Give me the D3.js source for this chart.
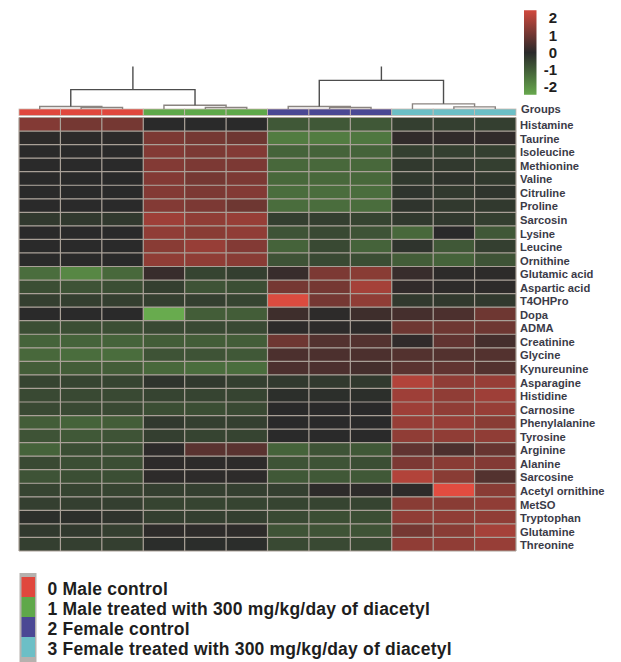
<!DOCTYPE html>
<html>
<head>
<meta charset="utf-8">
<script src="https://cdn.jsdelivr.net/npm/d3@7"></script>
<style>
  html, body { margin: 0; padding: 0; background: #fff; }
  svg { display: block; font-family: "Liberation Sans", Arial, sans-serif; }
</style>
</head>
<body>
<svg id="chart" width="621" height="662"></svg>
<script>
// Metabolites (rows), top to bottom
const metabolites = [
  "Histamine", "Taurine", "Isoleucine", "Methionine", "Valine", "Citruline",
  "Proline", "Sarcosin", "Lysine", "Leucine", "Ornithine", "Glutamic acid",
  "Aspartic acid", "T4OHPro", "Dopa", "ADMA", "Creatinine", "Glycine",
  "Kynureunine", "Asparagine", "Histidine", "Carnosine", "Phenylalanine",
  "Tyrosine", "Arginine", "Alanine", "Sarcosine", "Acetyl ornithine",
  "MetSO", "Tryptophan", "Glutamine", "Threonine"
];

// Sample columns (left to right) and the group each belongs to
const sampleGroups = [0, 0, 0, 1, 1, 1, 2, 2, 2, 3, 3, 3];

const groupNames = [
  "0 Male control",
  "1 Male treated with 300 mg/kg/day of diacetyl",
  "2 Female control",
  "3 Female treated with 300 mg/kg/day of diacetyl"
];
const groupColors = ["#e0473d", "#5fa84a", "#4b4894", "#6cbfc6"];

// Scaled concentrations (z-scores), one row per metabolite, 12 samples each
const zValues = [
  [ 1.3,  1.1,  1.1,  0.0,  0.0,  0.0, -0.9, -0.9, -0.9, -0.4, -0.4, -0.4],
  [ 0.05, 0.05, 0.05, 1.2,  1.1,  1.0, -1.6, -1.6, -1.5,  0.1,  0.1,  0.1],
  [ 0.0,  0.0,  0.0,  1.3,  1.2,  1.3, -1.1, -1.1, -1.1, -0.4, -0.4, -0.4],
  [ 0.0,  0.0,  0.0,  1.3,  1.2,  1.2, -1.2, -1.2, -1.2, -0.3, -0.3, -0.4],
  [ 0.0,  0.0,  0.0,  1.3,  1.1,  1.2, -1.2, -1.2, -1.2, -0.3, -0.2, -0.3],
  [ 0.0,  0.0,  0.0,  1.3,  1.2,  1.3, -1.3, -1.3, -1.3, -0.2, -0.3, -0.2],
  [ 0.0,  0.0,  0.0,  1.3,  1.2,  1.0, -1.3, -1.3, -1.3, -0.2, -0.3, -0.3],
  [-0.3, -0.3, -0.3,  1.7,  1.5,  1.6, -0.4, -0.4, -0.5, -0.3, -0.3, -0.4],
  [ 0.0,  0.0,  0.0,  1.5,  1.4,  1.5, -0.8, -0.6, -0.8, -1.2,  0.0, -0.9],
  [ 0.0,  0.0,  0.0,  1.4,  1.6,  1.3, -1.1, -0.6, -1.1, -0.2, -0.9, -0.4],
  [ 0.0,  0.0,  0.0,  1.5,  1.5,  1.4, -0.8, -0.6, -0.7, -1.0, -1.1, -0.8],
  [-1.3, -1.8, -1.2,  0.2, -0.5, -0.4,  0.2,  1.2,  1.4,  0.2,  0.05, 0.05],
  [-0.7, -0.8, -0.7, -0.4, -0.8, -0.7,  1.1,  1.1,  1.8,  0.1,  0.05, 0.05],
  [-0.4, -0.4, -0.4, -0.4, -0.4, -0.5,  2.6,  1.1,  1.5, -0.3, -0.3, -0.3],
  [ 0.0,  0.0,  0.0, -2.5, -1.0, -1.0,  0.3,  0.05, 0.3,  0.4,  0.5,  1.0],
  [-0.7, -0.7, -0.7, -0.6, -0.6, -0.6,  0.05, 0.05, 0.05, 1.0,  1.0,  1.0],
  [-1.1, -1.1, -1.1, -1.0, -1.0, -1.0,  1.0,  0.6,  0.6,  0.1,  0.8,  0.4],
  [-1.2, -1.3, -1.3, -0.8, -0.8, -0.9,  0.5,  0.5,  0.5,  0.6,  0.6,  0.6],
  [-1.0, -1.0, -1.0, -1.2, -1.3, -1.3,  0.5,  0.5,  0.4,  0.7,  0.8,  0.6],
  [-0.5, -0.5, -0.5, -0.2, -0.3, -0.4, -0.3, -0.3, -0.3,  2.0,  1.5,  1.6],
  [-0.6, -0.6, -0.6, -0.5, -0.5, -0.5, -0.1, -0.1, -0.1,  1.7,  1.5,  1.7],
  [-0.6, -0.6, -0.6, -0.7, -0.7, -0.6,  0.0,  0.0,  0.0,  1.7,  1.5,  1.6],
  [-1.0, -1.1, -1.0, -0.3, -0.4, -0.4,  0.0,  0.0,  0.0,  1.6,  1.6,  1.4],
  [-0.8, -0.9, -0.8, -0.4, -0.5, -0.5,  0.0,  0.0,  0.0,  1.5,  1.5,  1.5],
  [-1.1, -0.7, -0.7,  0.05, 0.7,  0.7, -1.1, -0.8, -0.9,  0.8,  0.5,  0.9],
  [-0.6, -0.7, -0.7,  0.05, 0.05, 0.05, -0.8, -0.8, -0.7,  1.2,  1.4,  1.3],
  [-0.8, -0.7, -0.7,  0.05, 0.05, 0.05, -0.9, -0.9, -0.9,  2.0,  1.4,  0.6],
  [-0.5, -0.5, -0.5, -0.4, -0.4, -0.4, -0.4,  0.05, 0.05, 0.05, 2.8,  1.4],
  [-0.4, -0.4, -0.4, -0.5, -0.5, -0.5, -0.5, -0.5, -0.5,  1.4,  1.4,  1.5],
  [-0.1, -0.1, -0.2, -0.4, -0.4, -0.4, -0.6, -0.7, -0.7,  1.5,  1.5,  1.5],
  [-0.3, -0.3, -0.4,  0.05, 0.05, 0.05, -0.8, -0.8, -0.8,  1.1,  1.4,  1.8],
  [-0.4, -0.4, -0.4, -0.05, -0.05, -0.05, -0.6, -0.6, -0.6, 1.5,  1.5,  1.6]
];

// Column clustering: [left node, right node, height]; leaves are 0..11, merges get ids 12+
const columnLinkage = [
  [1, 2, 0.35],
  [0, 12, 0.58],
  [4, 5, 0.35],
  [3, 14, 0.89],
  [13, 15, 4.56],
  [7, 8, 0.35],
  [6, 17, 0.58],
  [10, 11, 0.51],
  [9, 19, 1.21],
  [18, 20, 6.73]
];
const dendroRoots = [16, 21];

const colorTicks = [2, 1, 0, -1, -2];

// ---------- layout ----------
const svg = d3.select("#chart");
const heat = { left: 19, right: 516, top: 117.5, bottom: 551 };

const cols = d3.range(sampleGroups.length);
const x = d3.scaleBand().domain(cols).range([heat.left, heat.right]);
const y = d3.scaleBand().domain(metabolites).range([heat.top, heat.bottom]);

const color = d3.scaleLinear()
  .domain([-2.7, 0, 2.7])
  .range(["#6db551", "#2a2a2a", "#e24c40"])
  .clamp(true);

// ---------- heatmap cells ----------
const cells = [];
zValues.forEach((row, i) => row.forEach((v, j) => cells.push({ m: metabolites[i], j, v })));

svg.append("g")
  .selectAll("rect")
  .data(cells)
  .join("rect")
  .attr("x", d => x(d.j))
  .attr("y", d => y(d.m))
  .attr("width", x.bandwidth())
  .attr("height", y.bandwidth())
  .attr("fill", d => color(d.v));

// grid lines between cells
const grid = svg.append("g").attr("stroke", "#a9a097").attr("stroke-width", 1.2);
cols.concat([cols.length]).forEach(j => {
  const xx = j < cols.length ? x(j) : heat.right;
  grid.append("line").attr("x1", xx).attr("x2", xx).attr("y1", heat.top).attr("y2", heat.bottom);
});
metabolites.forEach(m => {
  grid.append("line").attr("x1", heat.left).attr("x2", heat.right).attr("y1", y(m)).attr("y2", y(m));
});
grid.append("line").attr("x1", heat.left).attr("x2", heat.right).attr("y1", heat.bottom).attr("y2", heat.bottom);

// ---------- group annotation bar ----------
const groupBar = { top: 109, height: 6.5 };
svg.append("g")
  .selectAll("rect")
  .data(cols)
  .join("rect")
  .attr("x", j => x(j))
  .attr("y", groupBar.top)
  .attr("width", x.bandwidth())
  .attr("height", groupBar.height)
  .attr("fill", j => groupColors[sampleGroups[j]])
  .attr("stroke", "#c9b8b0")
  .attr("stroke-width", 0.8);

svg.append("text")
  .attr("x", 521).attr("y", y.range()[0] - 4.5)
  .attr("font-size", 11.2).attr("font-weight", "bold").attr("fill", "#3b3b48")
  .text("Groups");

// ---------- row labels ----------
svg.append("g")
  .selectAll("text")
  .data(metabolites)
  .join("text")
  .attr("x", heat.right + 4)
  .attr("y", m => y(m) + y.bandwidth() / 2 + 1)
  .attr("dy", "0.35em")
  .attr("font-size", 11.2)
  .attr("font-weight", "bold")
  .attr("fill", "#3b3b48")
  .text(m => m);

// ---------- column dendrograms ----------
const h = d3.scaleLinear().domain([0, 10]).range([groupBar.top, 66.5]);
const nodes = cols.map(j => ({ x: x(j) + x.bandwidth() / 2, h: 0 }));
columnLinkage.forEach(([a, b, ht]) => {
  nodes.push({ x: (nodes[a].x + nodes[b].x) / 2, h: ht, a, b });
});
const dendro = svg.append("g").attr("fill", "none").attr("stroke", "#5a5a5a").attr("stroke-width", 1.4);
nodes.forEach(n => {
  if (n.a === undefined) return;
  const A = nodes[n.a], B = nodes[n.b];
  dendro.append("path")
    .attr("stroke", n.h > 2 ? "#4d4d4d" : "#8a8480")
    .attr("d", `M${A.x},${h(A.h)}V${h(n.h)}H${B.x}V${h(B.h)}`);
});
dendroRoots.forEach(r => {
  const n = nodes[r];
  dendro.append("path").attr("stroke", "#4d4d4d").attr("d", `M${n.x},${h(n.h)}V${h(10)}`);
});

// ---------- colour key ----------
const keyScale = d3.scaleLinear().domain([-2, 2]).range([87, 18]);
const keyDomain = [-2.45, 2.45];
const defs = svg.append("defs");
const grad = defs.append("linearGradient").attr("id", "keyGrad")
  .attr("x1", 0).attr("x2", 0).attr("y1", 1).attr("y2", 0);
d3.range(0, 1.0001, 0.1).forEach(t => {
  const v = keyDomain[0] + t * (keyDomain[1] - keyDomain[0]);
  grad.append("stop").attr("offset", t).attr("stop-color", color(v));
});
svg.append("rect")
  .attr("x", 524).attr("width", 12.5)
  .attr("y", keyScale(keyDomain[1]))
  .attr("height", keyScale(keyDomain[0]) - keyScale(keyDomain[1]))
  .attr("fill", "url(#keyGrad)");
svg.append("g")
  .selectAll("text")
  .data(colorTicks)
  .join("text")
  .attr("x", 557)
  .attr("y", v => keyScale(v))
  .attr("dy", "0.36em")
  .attr("text-anchor", "end")
  .attr("font-size", 15)
  .attr("font-weight", "bold")
  .attr("fill", "#1e1e1e")
  .text(v => v);

// ---------- group legend ----------
const legendY = d3.scaleBand().domain(d3.range(groupNames.length)).range([577, 657]);
svg.append("rect")
  .attr("x", 19.5).attr("y", 573).attr("width", 17).attr("height", 92)
  .attr("fill", "#b5b1ae");
svg.append("g")
  .selectAll("rect")
  .data(groupNames)
  .join("rect")
  .attr("x", 21.5)
  .attr("y", (d, i) => legendY(i))
  .attr("width", 13.5)
  .attr("height", legendY.bandwidth())
  .attr("fill", (d, i) => groupColors[i]);
svg.append("g")
  .selectAll("text")
  .data(groupNames)
  .join("text")
  .attr("x", 47.5)
  .attr("y", (d, i) => legendY(i) + legendY.bandwidth() - 2)
  .attr("font-size", 17.5)
  .attr("letter-spacing", 0.2)
  .attr("font-weight", "bold")
  .attr("fill", "#1e1e1e")
  .text(d => d);
</script>
</body>
</html>
